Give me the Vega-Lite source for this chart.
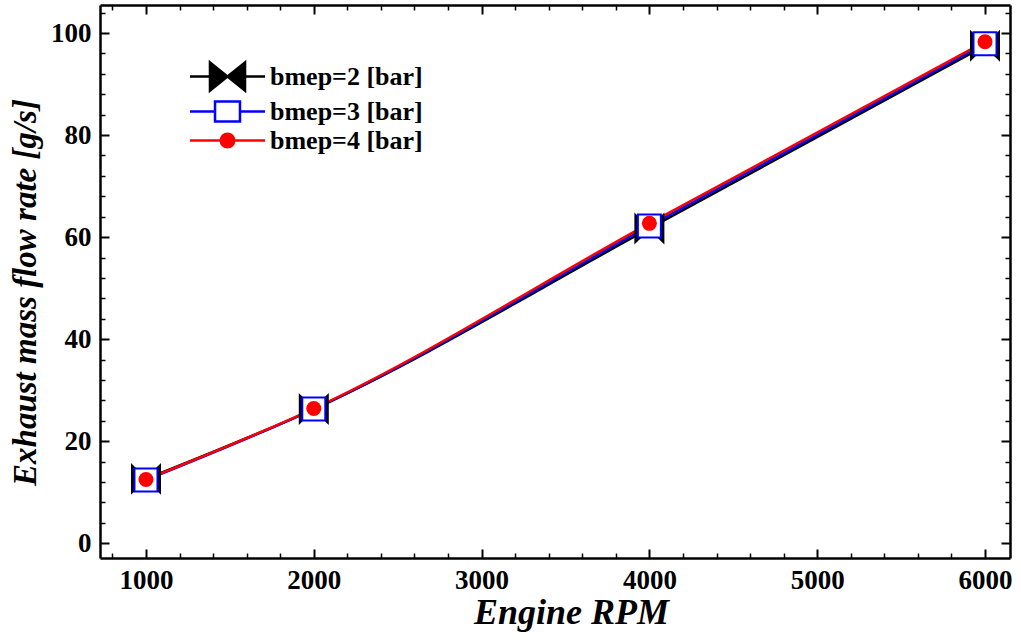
{
  "$schema": "https://vega.github.io/schema/vega-lite/v6.json",
  "width": 910,
  "height": 553,
  "autosize": {"type": "none"},
  "padding": {"left": 100, "top": 5, "right": 11, "bottom": 86},
  "background": "white",
  "config": {"view": {"stroke": null}, "axis": {"grid": false}},
  "data": {
    "values": [
      {"series": "bmep=2 [bar]", "rpm": 1000, "flow": 12.6},
      {"series": "bmep=2 [bar]", "rpm": 2000, "flow": 26.3},
      {"series": "bmep=2 [bar]", "rpm": 4000, "flow": 61.7},
      {"series": "bmep=2 [bar]", "rpm": 6000, "flow": 97.5},
      {"series": "bmep=3 [bar]", "rpm": 1000, "flow": 12.4},
      {"series": "bmep=3 [bar]", "rpm": 2000, "flow": 26.3},
      {"series": "bmep=3 [bar]", "rpm": 4000, "flow": 62.2},
      {"series": "bmep=3 [bar]", "rpm": 6000, "flow": 97.9},
      {"series": "bmep=4 [bar]", "rpm": 1000, "flow": 12.5},
      {"series": "bmep=4 [bar]", "rpm": 2000, "flow": 26.4},
      {"series": "bmep=4 [bar]", "rpm": 4000, "flow": 62.7},
      {"series": "bmep=4 [bar]", "rpm": 6000, "flow": 98.3}
    ]
  },
  "layer": [
    {
      "mark": {"type": "line", "interpolate": "monotone", "strokeWidth": 2.5},
      "encoding": {
        "x": {"field": "rpm", "type": "quantitative", "scale": {"domain": [726, 6149], "nice": false, "zero": false},
          "axis": {"orient": "bottom", "values": [1000, 2000, 3000, 4000, 5000, 6000], "format": "d", "ticks": false, "domain": true, "domainWidth": 2.5, "domainColor": "black", "labelFont": "Liberation Serif", "labelFontSize": 27, "labelFontWeight": "bold", "labelColor": "black", "labelPadding": 9, "labelFlush": false, "title": "Engine RPM", "titleFont": "Liberation Serif", "titleFontSize": 36, "titleFontWeight": "bold", "titleFontStyle": "italic", "titleColor": "black", "titlePadding": 2, "titleX": 471}},
        "y": {"field": "flow", "type": "quantitative", "scale": {"domain": [-2.9, 105.5], "nice": false, "zero": false},
          "axis": {"orient": "left", "values": [0, 20, 40, 60, 80, 100], "ticks": false, "domain": true, "domainWidth": 2.5, "domainColor": "black", "labelFont": "Liberation Serif", "labelFontSize": 27, "labelFontWeight": "bold", "labelColor": "black", "labelPadding": 9, "labelFlush": false, "title": "Exhaust mass flow rate [g/s]", "titleFont": "Liberation Serif", "titleFontSize": 33, "titleFontWeight": "bold", "titleFontStyle": "italic", "titleColor": "black", "titlePadding": 8, "titleY": 287}},
        "stroke": {"field": "series", "type": "nominal", "scale": {"domain": ["bmep=2 [bar]", "bmep=3 [bar]", "bmep=4 [bar]"], "range": ["#000000", "#0000ff", "#ff0000"]}, "legend": null}
      }
    },
    {
      "transform": [{"filter": "datum.series === 'bmep=2 [bar]'"}],
      "mark": {"type": "point", "shape": "M-1,-0.97L0,0L-1,0.97ZM1,-0.97L0,0L1,0.97Z", "size": 784, "filled": true, "fill": "#000000", "stroke": "#000000", "strokeWidth": 2, "opacity": 1},
      "encoding": {
        "x": {"field": "rpm", "type": "quantitative", "scale": {"domain": [726, 6149], "nice": false, "zero": false}, "axis": null},
        "y": {"field": "flow", "type": "quantitative", "scale": {"domain": [-2.9, 105.5], "nice": false, "zero": false}, "axis": null}
      }
    },
    {
      "transform": [{"filter": "datum.series === 'bmep=3 [bar]'"}],
      "mark": {"type": "point", "shape": "square", "size": 529, "filled": true, "fill": "#ffffff", "stroke": "#0000ff", "strokeWidth": 2, "opacity": 1},
      "encoding": {
        "x": {"field": "rpm", "type": "quantitative", "scale": {"domain": [726, 6149], "nice": false, "zero": false}, "axis": null},
        "y": {"field": "flow", "type": "quantitative", "scale": {"domain": [-2.9, 105.5], "nice": false, "zero": false}, "axis": null}
      }
    },
    {
      "transform": [{"filter": "datum.series === 'bmep=4 [bar]'"}],
      "mark": {"type": "point", "shape": "circle", "size": 225, "filled": true, "fill": "#ff0000", "strokeWidth": 0, "opacity": 1},
      "encoding": {
        "x": {"field": "rpm", "type": "quantitative", "scale": {"domain": [726, 6149], "nice": false, "zero": false}, "axis": null},
        "y": {"field": "flow", "type": "quantitative", "scale": {"domain": [-2.9, 105.5], "nice": false, "zero": false}, "axis": null}
      }
    },
    {
      "mark": {"type": "point", "filled": true, "opacity": 0},
      "encoding": {
        "x": {"field": "rpm", "type": "quantitative", "scale": {"domain": [726, 6149], "nice": false, "zero": false}, "axis": null},
        "y": {"field": "flow", "type": "quantitative", "scale": {"domain": [-2.9, 105.5], "nice": false, "zero": false}, "axis": null},
        "shape": {"field": "series", "type": "nominal", "scale": {"domain": ["bmep=2 [bar]", "bmep=3 [bar]", "bmep=4 [bar]"], "range": [
          "M-3.125,0H-1.46M1.46,0H3.125M-1.46,-1.17L0,0L-1.46,1.17ZM1.46,-1.17L0,0L1.46,1.17Z",
          "M-3.125,0H-1.04M1.04,0H3.125M-1.04,-0.83H1.04V0.83H-1.04Z",
          "M-3.125,0H3.125M-0.56,0A0.56,0.56 0 1,0 0.56,0A0.56,0.56 0 1,0 -0.56,0Z"]},
          "legend": {"orient": "none", "legendX": 114, "legendY": 58, "title": null, "symbolSize": 576, "symbolStrokeWidth": 2.5, "symbolOpacity": 1, "labelFont": "Liberation Serif", "labelFontSize": 26, "labelFontWeight": "bold", "labelColor": "black", "labelOffset": 29, "rowPadding": 0, "padding": 0}},
        "fill": {"field": "series", "type": "nominal", "scale": {"domain": ["bmep=2 [bar]", "bmep=3 [bar]", "bmep=4 [bar]"], "range": ["#000000", "#ffffff", "#ff0000"]},
          "legend": {"orient": "none", "legendX": 114, "legendY": 58, "title": null, "symbolSize": 576, "symbolStrokeWidth": 2.5, "symbolOpacity": 1, "labelFont": "Liberation Serif", "labelFontSize": 26, "labelFontWeight": "bold", "labelColor": "black", "labelOffset": 29, "rowPadding": 0, "padding": 0}},
        "stroke": {"field": "series", "type": "nominal", "scale": {"domain": ["bmep=2 [bar]", "bmep=3 [bar]", "bmep=4 [bar]"], "range": ["#000000", "#0000ff", "#ff0000"]},
          "legend": {"orient": "none", "legendX": 114, "legendY": 58, "title": null, "symbolSize": 576, "symbolStrokeWidth": 2.5, "symbolOpacity": 1, "labelFont": "Liberation Serif", "labelFontSize": 26, "labelFontWeight": "bold", "labelColor": "black", "labelOffset": 29, "rowPadding": 0, "padding": 0}}
      }
    },
    {
      "mark": {"type": "point", "opacity": 0},
      "encoding": {
        "x": {"field": "rpm", "type": "quantitative", "scale": {"domain": [726, 6149], "nice": false, "zero": false},
          "axis": {"orient": "bottom", "values": [1000, 2000, 3000, 4000, 5000, 6000], "labels": false, "domain": false, "ticks": true, "tickSize": -9, "tickWidth": 2, "tickColor": "black", "title": null}},
        "y": {"field": "flow", "type": "quantitative", "scale": {"domain": [-2.9, 105.5], "nice": false, "zero": false},
          "axis": {"orient": "left", "values": [0, 20, 40, 60, 80, 100], "labels": false, "domain": false, "ticks": true, "tickSize": -9, "tickWidth": 2, "tickColor": "black", "title": null}}
      }
    },
    {
      "mark": {"type": "point", "opacity": 0},
      "encoding": {
        "x": {"field": "rpm", "type": "quantitative", "scale": {"domain": [726, 6149], "nice": false, "zero": false},
          "axis": {"orient": "bottom", "values": [800, 1200, 1400, 1600, 1800, 2200, 2400, 2600, 2800, 3200, 3400, 3600, 3800, 4200, 4400, 4600, 4800, 5200, 5400, 5600, 5800], "labels": false, "domain": false, "ticks": true, "tickSize": -5, "tickWidth": 1.5, "tickColor": "black", "title": null}},
        "y": {"field": "flow", "type": "quantitative", "scale": {"domain": [-2.9, 105.5], "nice": false, "zero": false},
          "axis": {"orient": "left", "values": [4, 8, 12, 16, 24, 28, 32, 36, 44, 48, 52, 56, 64, 68, 72, 76, 84, 88, 92, 96, 104], "labels": false, "domain": false, "ticks": true, "tickSize": -5, "tickWidth": 1.5, "tickColor": "black", "title": null}}
      }
    },
    {
      "mark": {"type": "point", "opacity": 0},
      "encoding": {
        "x": {"field": "rpm", "type": "quantitative", "scale": {"domain": [726, 6149], "nice": false, "zero": false},
          "axis": {"orient": "top", "values": [1000, 2000, 3000, 4000, 5000, 6000], "labels": false, "domain": true, "domainWidth": 2.5, "domainColor": "black", "ticks": true, "tickSize": -9, "tickWidth": 2, "tickColor": "black", "title": null}},
        "y": {"field": "flow", "type": "quantitative", "scale": {"domain": [-2.9, 105.5], "nice": false, "zero": false},
          "axis": {"orient": "right", "values": [0, 20, 40, 60, 80, 100], "labels": false, "domain": true, "domainWidth": 2.5, "domainColor": "black", "ticks": true, "tickSize": -9, "tickWidth": 2, "tickColor": "black", "title": null}}
      }
    },
    {
      "mark": {"type": "point", "opacity": 0},
      "encoding": {
        "x": {"field": "rpm", "type": "quantitative", "scale": {"domain": [726, 6149], "nice": false, "zero": false},
          "axis": {"orient": "top", "values": [800, 1200, 1400, 1600, 1800, 2200, 2400, 2600, 2800, 3200, 3400, 3600, 3800, 4200, 4400, 4600, 4800, 5200, 5400, 5600, 5800], "labels": false, "domain": false, "ticks": true, "tickSize": -5, "tickWidth": 1.5, "tickColor": "black", "title": null}},
        "y": {"field": "flow", "type": "quantitative", "scale": {"domain": [-2.9, 105.5], "nice": false, "zero": false},
          "axis": {"orient": "right", "values": [4, 8, 12, 16, 24, 28, 32, 36, 44, 48, 52, 56, 64, 68, 72, 76, 84, 88, 92, 96, 104], "labels": false, "domain": false, "ticks": true, "tickSize": -5, "tickWidth": 1.5, "tickColor": "black", "title": null}}
      }
    }
  ],
  "resolve": {
    "axis": {"x": "independent", "y": "independent"},
    "scale": {"shape": "independent", "fill": "independent", "stroke": "independent"}
  }
}
